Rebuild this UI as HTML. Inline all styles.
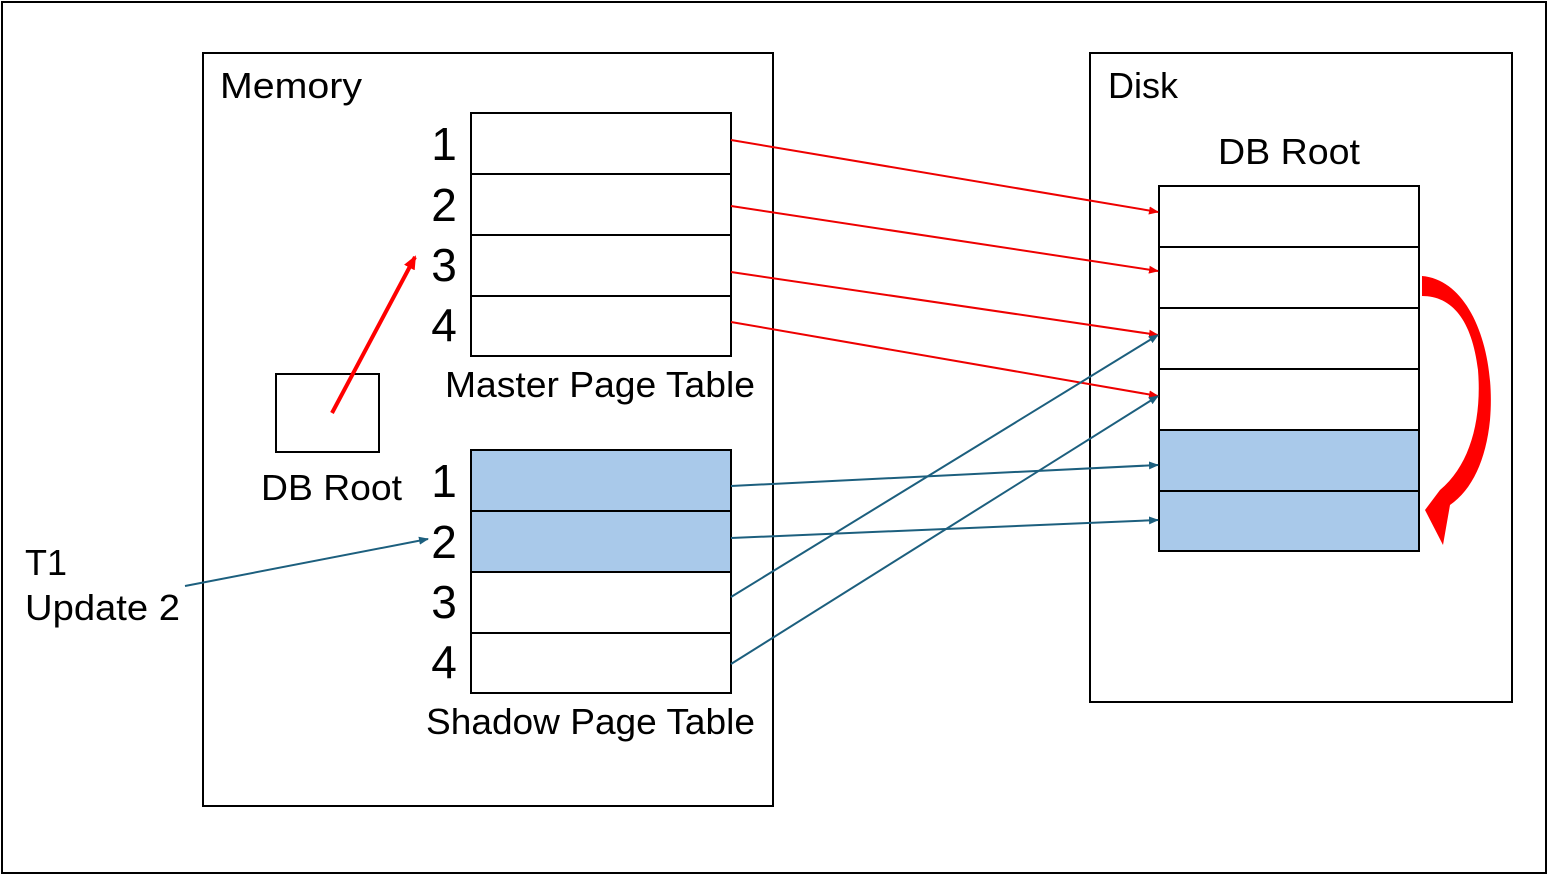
<!DOCTYPE html>
<html><head><meta charset="utf-8"><style>
html,body{margin:0;padding:0;background:#fff;}
svg{display:block;}
text{font-family:"Liberation Sans","Noto Sans CJK KR",sans-serif;fill:#000;}
</style></head><body>
<svg width="1548" height="875" viewBox="0 0 1548 875" xmlns="http://www.w3.org/2000/svg">
<defs>
<marker id="ar" markerWidth="10" markerHeight="8" refX="9" refY="4" orient="auto" markerUnits="userSpaceOnUse"><path d="M0,0 L10,4 L0,8 z" fill="#e00"/></marker>
<marker id="ab" markerWidth="10" markerHeight="8" refX="9" refY="4" orient="auto" markerUnits="userSpaceOnUse"><path d="M0,0 L10,4 L0,8 z" fill="#1c5f7e"/></marker>
<marker id="arb" markerWidth="14" markerHeight="12" refX="12" refY="6" orient="auto" markerUnits="userSpaceOnUse"><path d="M0,0 L14,6 L0,12 z" fill="#f00"/></marker>
</defs>
<rect x="2" y="2" width="1544" height="871" fill="#fff" stroke="#000" stroke-width="2"/>
<rect x="203" y="53" width="570" height="753" fill="none" stroke="#000" stroke-width="2"/>
<rect x="1090" y="53" width="422" height="649" fill="none" stroke="#000" stroke-width="2"/>
<text x="220" y="98" font-size="36" textLength="142" lengthAdjust="spacingAndGlyphs">Memory</text>
<text x="1108" y="98" font-size="36" textLength="70" lengthAdjust="spacingAndGlyphs">Disk</text>
<text x="1218" y="164" font-size="36" textLength="142" lengthAdjust="spacingAndGlyphs">DB Root</text>
<g stroke="#000" stroke-width="2" fill="#fff">
<rect x="471" y="113" width="260" height="61"/><rect x="471" y="174" width="260" height="61"/>
<rect x="471" y="235" width="260" height="61"/><rect x="471" y="296" width="260" height="60"/>
<rect x="471" y="450" width="260" height="61" fill="#a9c9ea"/><rect x="471" y="511" width="260" height="61" fill="#a9c9ea"/>
<rect x="471" y="572" width="260" height="61"/><rect x="471" y="633" width="260" height="60"/>
<rect x="1159" y="186" width="260" height="61"/><rect x="1159" y="247" width="260" height="61"/>
<rect x="1159" y="308" width="260" height="61"/><rect x="1159" y="369" width="260" height="61"/>
<rect x="1159" y="430" width="260" height="61" fill="#a9c9ea"/><rect x="1159" y="491" width="260" height="60" fill="#a9c9ea"/>
<rect x="276" y="374" width="103" height="78"/>
</g>
<g font-size="46" text-anchor="middle">
<text x="444" y="160">1</text><text x="444" y="221">2</text><text x="444" y="281">3</text><text x="444" y="341">4</text>
<text x="444" y="497">1</text><text x="444" y="558">2</text><text x="444" y="618">3</text><text x="444" y="678">4</text>
</g>
<text x="445" y="397" font-size="36" textLength="310" lengthAdjust="spacingAndGlyphs">Master Page Table</text>
<text x="426" y="734" font-size="36" textLength="329" lengthAdjust="spacingAndGlyphs">Shadow Page Table</text>
<text x="261" y="500" font-size="36" textLength="141" lengthAdjust="spacingAndGlyphs">DB Root</text>
<text x="25" y="575" font-size="36">T1</text>
<text x="25" y="620" font-size="36" textLength="155" lengthAdjust="spacingAndGlyphs">Update 2</text>
<g stroke="#e00" stroke-width="2" marker-end="url(#ar)">
<line x1="731" y1="140" x2="1158" y2="212"/><line x1="731" y1="206" x2="1158" y2="271"/>
<line x1="731" y1="272" x2="1158" y2="335"/><line x1="731" y1="322" x2="1158" y2="396"/>
</g>
<line x1="332" y1="413" x2="415" y2="257" stroke="#f00" stroke-width="4" marker-end="url(#arb)"/>
<g stroke="#1c5f7e" stroke-width="2" marker-end="url(#ab)">
<line x1="731" y1="486" x2="1158" y2="465"/><line x1="731" y1="538" x2="1158" y2="520"/>
<line x1="731" y1="597" x2="1158" y2="335"/><line x1="731" y1="664" x2="1158" y2="396"/>
<line x1="185" y1="586" x2="428" y2="539"/>
</g>
<path d="M1422,276 C1470,280 1496,350 1490,420 C1486,460 1472,490 1450,505 L1443,545 L1425,510 L1440,490 C1470,465 1482,420 1478,370 C1472,320 1452,296 1422,296 Z" fill="#f00"/>
</svg>
</body></html>
